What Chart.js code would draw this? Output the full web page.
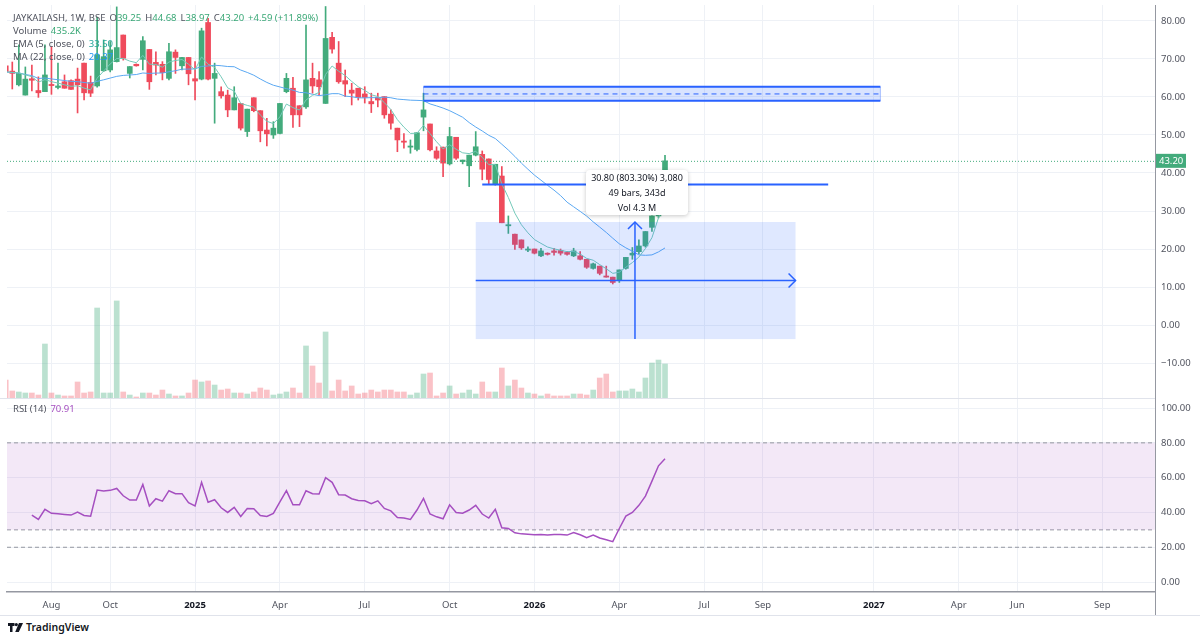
<!DOCTYPE html>
<html>
<head>
<meta charset="utf-8">
<title>JAYKAILASH 1W</title>
<script src="https://cdn.jsdelivr.net/npm/chart.js@4.4.1/dist/chart.umd.min.js"></script>
<style>
  body { margin: 0; background: #fff; font-family: 'Noto Sans', sans-serif; }
  #wrap { position: relative; width: 1200px; height: 640px; overflow: hidden; }
  canvas { position: absolute; left: 0; }
  #price { top: 0; }
  #rsi { top: 398px; }
  .txt { position: absolute; left: 13px; font-size: 9.5px; line-height: 13px; color: #50535e; white-space: nowrap; }
  .g { color: #3aa876; }
  .sp { margin-left: 4px; }
  .sep { position: absolute; background: #e0e3eb; }
  #measure { position: absolute; left: 586px; top: 170px; width: 102px; height: 45px; background: #fff;
             border-radius: 4px; box-shadow: 0 1px 4px rgba(0,0,0,0.22); font-size: 9px; line-height: 15px;
             text-align: center; color: #131722; }
  #logo { position: absolute; left: 8px; top: 620px; font-size: 10.5px; font-weight: 600; color: #131722; }
  #logo svg { vertical-align: -1px; margin-right: 3px; }
</style>
</head>
<body>
<div id="wrap">
  <canvas id="price" width="1200" height="398"></canvas>
  <canvas id="rsi" width="1200" height="220"></canvas>
  <div class="sep" style="left:0;top:398px;width:1155px;height:1px"></div>
  <div class="sep" style="left:1155px;top:5px;width:1px;height:611px;background:#9598a1"></div>
  <div class="sep" style="left:0;top:615px;width:1200px;height:1px"></div>

  <div class="txt" style="top:11px">JAYKAILASH, 1W, BSE<span class="sp">O</span><span class="g">39.25</span><span class="sp">H</span><span class="g">44.68</span><span class="sp">L</span><span class="g">38.97</span><span class="sp">C</span><span class="g">43.20</span><span class="g sp">+4.59 (+11.89%)</span></div>
  <div class="txt" style="top:24px">Volume<span class="g sp">435.2K</span></div>
  <div class="txt" style="top:37px">EMA (5, close, 0)<span class="sp" style="color:#26a69a">33.50</span></div>
  <div class="txt" style="top:50px">MA (22, close, 0)<span class="sp" style="color:#2196f3">20.37</span></div>
  <div class="txt" style="top:402px">RSI (14)<span class="sp" style="color:#a54fc0">70.91</span></div>

  <div id="measure">30.80 (803.30%) 3,080<br>49 bars, 343d<br>Vol 4.3 M</div>

  <div id="logo"><svg width="15" height="9" viewBox="0 0 15 9"><path d="M0 0h6.5v3H4.5v6H2V3H0z" fill="#131722"/><circle cx="8.3" cy="1.6" r="1.6" fill="#131722"/><path d="M11 0h4l-4.2 9H7.2z" fill="#131722"/></svg>TradingView</div>
</div>

<script>
// weekly bars, first bar dated barStart
var barStart = '2024-06-10';

var opens  = [68.2, 66.8, 63.2, 60.5, 64.8, 61.7, 61.4, 63.3, 62.5, 64.0, 64.3, 64.7, 68.9, 63.8, 62.9, 66.9, 67.1, 69.3, 76.3, 66.2,
              68.6, 69.9, 72.5, 69.1, 68.6, 64.9, 71.8, 68.2, 70.4, 64.8, 64.7, 79.6, 64.9, 61.4, 60.5, 56.6, 58.3, 50.9, 59.8, 56.4,
              51.3, 50.0, 50.4, 61.4, 62.3, 57.7, 57.4, 64.9, 64.5, 58.3, 75.7, 68.9, 64.3, 61.8, 62.3, 60.8, 58.8, 59.9, 60.1, 55.5,
              51.8, 48.4, 46.8, 46.2, 54.7, 52.9, 45.8, 46.8, 42.4, 49.4, 43.0, 41.9, 44.7, 44.9, 43.7, 37.1, 39.2, 26.1, 23.9, 22.4,
              19.7, 20.0, 18.2, 18.9, 19.5, 19.6, 19.1, 18.2, 18.2, 17.3, 14.9, 15.5, 12.9, 12.6, 11.8, 14.9, 18.4, 19.3, 20.8, 25.7,
              28.7, 39.25];
var highs  = [69.2, 69.2, 73.7, 67.9, 68.4, 65.3, 73.7, 73.2, 68.9, 65.8, 64.5, 67.6, 68.9, 65.5, 81.0, 75.0, 74.6, 83.7, 76.3, 68.0,
              68.7, 75.9, 72.5, 71.9, 69.3, 74.1, 72.4, 70.4, 70.4, 69.3, 78.1, 80.7, 68.9, 62.7, 61.8, 62.7, 58.3, 56.8, 59.8, 56.4,
              54.4, 53.5, 58.3, 66.2, 65.2, 57.7, 78.9, 68.9, 66.7, 83.8, 77.0, 74.6, 67.1, 63.6, 62.3, 62.7, 61.0, 61.0, 60.1, 56.6,
              51.8, 50.4, 48.7, 50.6, 61.0, 52.9, 46.9, 46.8, 52.0, 49.4, 43.4, 44.7, 50.9, 45.8, 43.7, 42.3, 41.7, 28.7, 23.9, 22.4,
              20.6, 20.0, 20.2, 19.0, 20.2, 20.0, 19.4, 20.2, 19.3, 17.3, 16.3, 15.5, 15.5, 12.6, 14.5, 17.8, 20.4, 22.4, 24.6, 28.7,
              39.5, 44.68];
var lows   = [65.0, 62.1, 62.9, 60.5, 61.6, 59.9, 61.4, 60.7, 62.1, 62.3, 62.0, 55.8, 59.2, 60.1, 62.6, 66.7, 66.6, 69.2, 69.7, 65.0,
              68.1, 67.1, 62.0, 65.8, 64.5, 64.5, 66.2, 67.1, 63.2, 59.2, 64.5, 64.5, 53.1, 59.7, 54.8, 56.6, 51.3, 49.6, 56.1, 48.2,
              47.1, 49.1, 50.3, 61.1, 52.0, 52.2, 57.0, 61.0, 60.5, 58.3, 71.5, 63.6, 60.1, 57.9, 59.2, 58.4, 55.9, 57.4, 54.4, 51.5,
              45.6, 46.5, 45.2, 45.8, 51.1, 45.8, 43.6, 39.0, 42.1, 43.6, 42.4, 36.4, 44.5, 38.2, 37.0, 36.8, 26.9, 24.1, 19.9, 19.9,
              19.3, 18.7, 18.0, 18.4, 18.4, 18.4, 18.4, 18.0, 17.1, 14.9, 14.7, 13.2, 12.6, 10.8, 11.2, 14.7, 17.3, 18.7, 20.5, 24.6,
              28.2, 38.97];
var closes = [66.6, 66.2, 66.2, 64.7, 64.4, 61.1, 65.8, 63.0, 62.9, 62.3, 62.0, 63.2, 61.1, 61.0, 71.1, 70.6, 72.4, 73.0, 70.2, 68.0,
              68.2, 74.8, 64.0, 68.4, 66.4, 71.9, 70.4, 70.4, 66.1, 64.2, 77.4, 64.7, 66.2, 60.3, 56.6, 59.8, 51.8, 56.8, 56.4, 51.1,
              50.3, 51.8, 58.3, 64.9, 55.3, 55.3, 64.5, 62.9, 62.7, 75.4, 72.6, 64.0, 63.4, 61.0, 59.9, 59.9, 58.2, 59.2, 55.3, 53.1,
              48.7, 48.1, 47.1, 50.6, 56.6, 46.1, 43.9, 42.6, 49.6, 43.9, 43.4, 44.7, 46.9, 41.0, 38.3, 42.3, 26.9, 26.4, 21.2, 20.3,
              20.0, 18.9, 19.5, 18.6, 19.1, 18.9, 18.6, 19.5, 17.3, 15.2, 16.1, 13.6, 12.6, 11.2, 14.5, 17.8, 18.9, 20.8, 24.6, 28.7,
              38.61, 43.20];
// volume in thousands
var volumes = [230, 90, 77, 64, 64, 38, 691, 64, 38, 26, 26, 205, 64, 77, 1152, 64, 64, 1242, 77, 38,
               13, 64, 64, 38, 102, 51, 26, 26, 64, 230, 205, 218, 166, 102, 115, 64, 64, 51, 77, 128,
               102, 38, 51, 77, 128, 64, 666, 410, 192, 845, 90, 230, 90, 154, 51, 64, 102, 77, 102, 102,
               77, 77, 38, 64, 307, 320, 26, 64, 154, 51, 64, 102, 51, 205, 77, 77, 384, 154, 230, 128,
               64, 51, 26, 51, 26, 26, 26, 51, 51, 38, 102, 256, 307, 77, 90, 90, 115, 77, 256, 448,
               486, 435.2];

// RSI(14) as drawn, starting at bar rsiStart
var rsiStart = 4;
var rsiValues = [38.5, 36.0, 41.8, 39.5, 39.3, 38.9, 38.5, 40.2, 38.3, 37.9, 52.9, 52.3, 52.7, 53.8, 49.6, 47.1, 47.1, 56.1, 43.7, 47.9,
                 46.5, 52.5, 50.8, 50.8, 45.6, 43.7, 57.3, 45.9, 47.3, 42.7, 40.0, 42.9, 37.7, 42.3, 42.1, 38.3, 37.7, 39.5, 46.1, 52.5,
                 44.4, 44.4, 52.5, 50.8, 50.6, 60.0, 57.3, 50.2, 50.0, 47.9, 46.9, 46.7, 45.0, 46.7, 42.3, 40.9, 37.1, 36.8, 36.0, 41.4,
                 48.1, 39.1, 37.5, 36.4, 44.4, 40.0, 39.6, 41.4, 44.1, 39.1, 36.8, 41.8, 31.2, 30.8, 28.3, 27.7, 27.5, 27.2, 27.4, 27.0,
                 27.4, 27.4, 27.0, 28.5, 27.2, 25.5, 27.0, 25.3, 24.3, 23.2, 30.8, 37.9, 40.0, 44.1, 49.4, 58.0, 66.8, 70.91];
var rsiLevels = [80, 30, 20];

var priceTicks = [80, 70, 60, 50, 40, 30, 20, 10, 0, -10];
var rsiTicks = [100, 80, 60, 40, 20, 0];
var tickDates = ['2024-08-01', '2024-10-01', '2025-01-01', '2025-04-01', '2025-07-01', '2025-10-01', '2026-01-01',
                 '2026-04-01', '2026-07-01', '2026-09-01', '2027-01-01', '2027-04-01', '2027-06-01', '2027-09-01'];
var tickLabels = ['Aug', 'Oct', '2025', 'Apr', 'Jul', 'Oct', '2026', 'Apr', 'Jul', 'Sep', '2027', 'Apr', 'Jun', 'Sep'];

// drawings, in bar index / price units
var zone = { from: 64, to: 134, top: 62.7, mid: 60.8, bottom: 59.0 };
var level = { from: 73, to: 126, price: 37.0 };
var range = { from: 72, to: 121, top: 27.1, bottom: -3.7, arrowPrice: 11.7, arrowBar: 96.4 };

var viewFrom = 0.19, viewTo = 176.07;
var priceMin = -19.2, priceMax = 84.2, volMax = 5030;
var rsiMin = -5.7, rsiMax = 105.2;

var UP = '#43ab7c', DOWN = '#ef4b5c', BLUE = '#2962ff', GRID = '#eef1f6';

Chart.defaults.font.family = "'Noto Sans', sans-serif";
Chart.defaults.font.size = 9.5;
Chart.defaults.color = '#50535e';

var t0 = Date.parse(barStart);
var tickBars = tickDates.map(function (d) { return Math.floor((Date.parse(d) - t0) / (7 * 864e5)); });

var lastClose = closes[closes.length - 1];
var candleColors = closes.map(function (c, i) { return c >= opens[i] ? UP : DOWN; });
var volColors = closes.map(function (c, i) { return c >= opens[i] ? 'rgba(67,171,124,0.36)' : 'rgba(239,75,92,0.34)'; });

var bodies = closes.map(function (c, i) { return { x: i, y: [opens[i], c] }; });
var wicks = closes.map(function (c, i) { return { x: i, y: [lows[i], highs[i]] }; });
var vols = volumes.map(function (v, i) { return { x: i, y: v }; });

var ema = [];
closes.forEach(function (c, i) { ema.push(i ? ema[i - 1] + (c - ema[i - 1]) / 3 : c); });
var ma = closes.map(function (c, i) {
  var s = closes.slice(Math.max(0, i - 21), i + 1);
  return s.reduce(function (a, b) { return a + b; }, 0) / s.length;
});
var emaPts = ema.map(function (v, i) { return { x: i, y: v }; });
var maPts = ma.map(function (v, i) { return { x: i, y: v }; });
var rsiPts = rsiValues.map(function (v, i) { return { x: rsiStart + i, y: v }; });

function fmt(v) { return (v < 0 ? '\u2212' : '') + Math.abs(v).toFixed(2); }
function noPad(s) { s.paddingTop = 0; s.paddingBottom = 0; s.paddingLeft = 0; s.paddingRight = 0; }

function line(ctx, x1, y1, x2, y2) { ctx.beginPath(); ctx.moveTo(x1, y1); ctx.lineTo(x2, y2); ctx.stroke(); }

var drawings = {
  id: 'drawings',
  afterDatasetsDraw: function (chart) {
    var ctx = chart.ctx, a = chart.chartArea, x = chart.scales.x, y = chart.scales.y;
    function px(v) { return x.getPixelForValue(v); }
    function py(v) { return y.getPixelForValue(v); }
    ctx.save();
    ctx.beginPath(); ctx.rect(a.left, a.top, a.right - a.left, a.bottom - a.top); ctx.clip();

    // last price
    ctx.strokeStyle = UP; ctx.lineWidth = 1; ctx.setLineDash([1, 2]);
    line(ctx, a.left, py(lastClose) + 0.5, a.right, py(lastClose) + 0.5);
    ctx.setLineDash([]);

    // resistance zone
    ctx.fillStyle = 'rgba(41,98,255,0.18)';
    ctx.fillRect(px(zone.from), py(zone.top), px(zone.to) - px(zone.from), py(zone.bottom) - py(zone.top));
    ctx.strokeStyle = 'rgba(41,98,255,0.35)'; ctx.lineWidth = 1;
    line(ctx, px(zone.from), py(zone.top), px(zone.from), py(zone.bottom));
    line(ctx, px(zone.to), py(zone.top), px(zone.to), py(zone.bottom));
    ctx.strokeStyle = BLUE; ctx.lineWidth = 2;
    line(ctx, px(zone.from), py(zone.top), px(zone.to), py(zone.top));
    line(ctx, px(zone.from), py(zone.bottom), px(zone.to), py(zone.bottom));
    ctx.lineWidth = 1; ctx.setLineDash([5, 4]);
    line(ctx, px(zone.from), py(zone.mid), px(zone.to), py(zone.mid));
    ctx.setLineDash([]);

    // horizontal level
    ctx.lineWidth = 2;
    line(ctx, px(level.from), py(level.price), px(level.to), py(level.price));

    // date and price range
    ctx.fillStyle = 'rgba(41,98,255,0.15)';
    ctx.fillRect(px(range.from), py(range.top), px(range.to) - px(range.from), py(range.bottom) - py(range.top));
    ctx.strokeStyle = BLUE; ctx.lineWidth = 1.5;
    var ay = py(range.arrowPrice), ax2 = px(range.to);
    line(ctx, px(range.from), ay, ax2, ay);
    ctx.beginPath(); ctx.moveTo(ax2 - 7, ay - 7); ctx.lineTo(ax2, ay); ctx.lineTo(ax2 - 7, ay + 7); ctx.stroke();
    var vx = px(range.arrowBar), vTop = py(range.top);
    line(ctx, vx, py(range.bottom), vx, vTop);
    ctx.beginPath(); ctx.moveTo(vx - 7, vTop + 7); ctx.lineTo(vx, vTop); ctx.lineTo(vx + 7, vTop + 7); ctx.stroke();
    ctx.restore();

    // last price tag on the axis
    var ly = py(lastClose);
    ctx.save();
    ctx.fillStyle = UP;
    ctx.fillRect(a.right + 1, ly - 7, 30, 14);
    ctx.fillStyle = '#fff'; ctx.font = "9.5px 'Noto Sans', sans-serif";
    ctx.textBaseline = 'middle';
    ctx.fillText(lastClose.toFixed(2), a.right + 4, ly + 0.5);
    ctx.restore();
  }
};

new Chart(document.getElementById('price'), {
  type: 'bar',
  data: {
    datasets: [
      { type: 'line', data: emaPts, borderColor: '#74c9b9', borderWidth: 1, pointRadius: 0, tension: 0, order: 0, yAxisID: 'y' },
      { type: 'line', data: maPts, borderColor: '#5aa8f2', borderWidth: 1, pointRadius: 0, tension: 0, order: 0, yAxisID: 'y' },
      { data: bodies, backgroundColor: candleColors, barThickness: 5, minBarLength: 1, grouped: false, order: 1, yAxisID: 'y', clip: 0 },
      { data: wicks, backgroundColor: candleColors, barThickness: 1, grouped: false, order: 2, yAxisID: 'y', clip: 0 },
      { data: vols, backgroundColor: volColors, barThickness: 5, grouped: false, order: 5, yAxisID: 'yVol', clip: 0 }
    ]
  },
  options: {
    responsive: false,
    animation: false,
    layout: { padding: { left: 7, top: 5, right: 0, bottom: 0 } },
    plugins: { legend: { display: false }, tooltip: { enabled: false } },
    scales: {
      x: {
        type: 'linear', min: viewFrom, max: viewTo, offset: false,
        afterBuildTicks: function (s) { s.ticks = tickBars.map(function (v) { return { value: v }; }); },
        ticks: { display: false },
        grid: { color: GRID, drawTicks: false, offset: false },
        border: { display: false },
        afterFit: function (s) { s.height = 0; noPad(s); }
      },
      y: {
        position: 'right', min: priceMin, max: priceMax,
        afterBuildTicks: function (s) { s.ticks = priceTicks.map(function (v) { return { value: v }; }); },
        ticks: { callback: fmt, padding: 6 },
        grid: { color: GRID, drawTicks: false },
        border: { display: false },
        afterFit: function (s) { s.width = 45; noPad(s); }
      },
      yVol: { display: false, min: 0, max: volMax }
    }
  },
  plugins: [drawings]
});

var levelSets = rsiLevels.map(function (v, i) {
  return {
    data: [{ x: viewFrom, y: v }, { x: viewTo, y: v }],
    borderColor: '#9598a1', borderWidth: 1, borderDash: [4, 3], pointRadius: 0,
    fill: i === 0 ? '+1' : false, backgroundColor: 'rgba(165,79,192,0.13)', order: 2
  };
});

new Chart(document.getElementById('rsi'), {
  type: 'line',
  data: {
    datasets: [
      { data: rsiPts, borderColor: '#a54fc0', borderWidth: 1.5, pointRadius: 0, tension: 0, order: 0 }
    ].concat(levelSets)
  },
  options: {
    responsive: false,
    animation: false,
    layout: { padding: { left: 7, top: 1, right: 0, bottom: 0 } },
    plugins: { legend: { display: false }, tooltip: { enabled: false } },
    scales: {
      x: {
        type: 'linear', min: viewFrom, max: viewTo,
        afterBuildTicks: function (s) { s.ticks = tickBars.map(function (v) { return { value: v }; }); },
        ticks: {
          padding: 8, maxRotation: 0, autoSkip: false,
          callback: function (v, i) { return tickLabels[i]; },
          color: function (c) { return /^\d{4}$/.test(tickLabels[c.index]) ? '#131722' : '#50535e'; },
          font: function (c) { return { weight: /^\d{4}$/.test(tickLabels[c.index]) ? 'bold' : 'normal' }; }
        },
        grid: { color: GRID, drawTicks: false },
        border: { display: true, color: '#9598a1', width: 1.5 },
        afterFit: function (s) { s.height = 26; noPad(s); }
      },
      y: {
        position: 'right', min: rsiMin, max: rsiMax,
        afterBuildTicks: function (s) { s.ticks = rsiTicks.map(function (v) { return { value: v }; }); },
        ticks: { callback: fmt, padding: 6 },
        grid: { color: GRID, drawTicks: false },
        border: { display: false },
        afterFit: function (s) { s.width = 45; noPad(s); }
      }
    }
  }
});
</script>
</body>
</html>
